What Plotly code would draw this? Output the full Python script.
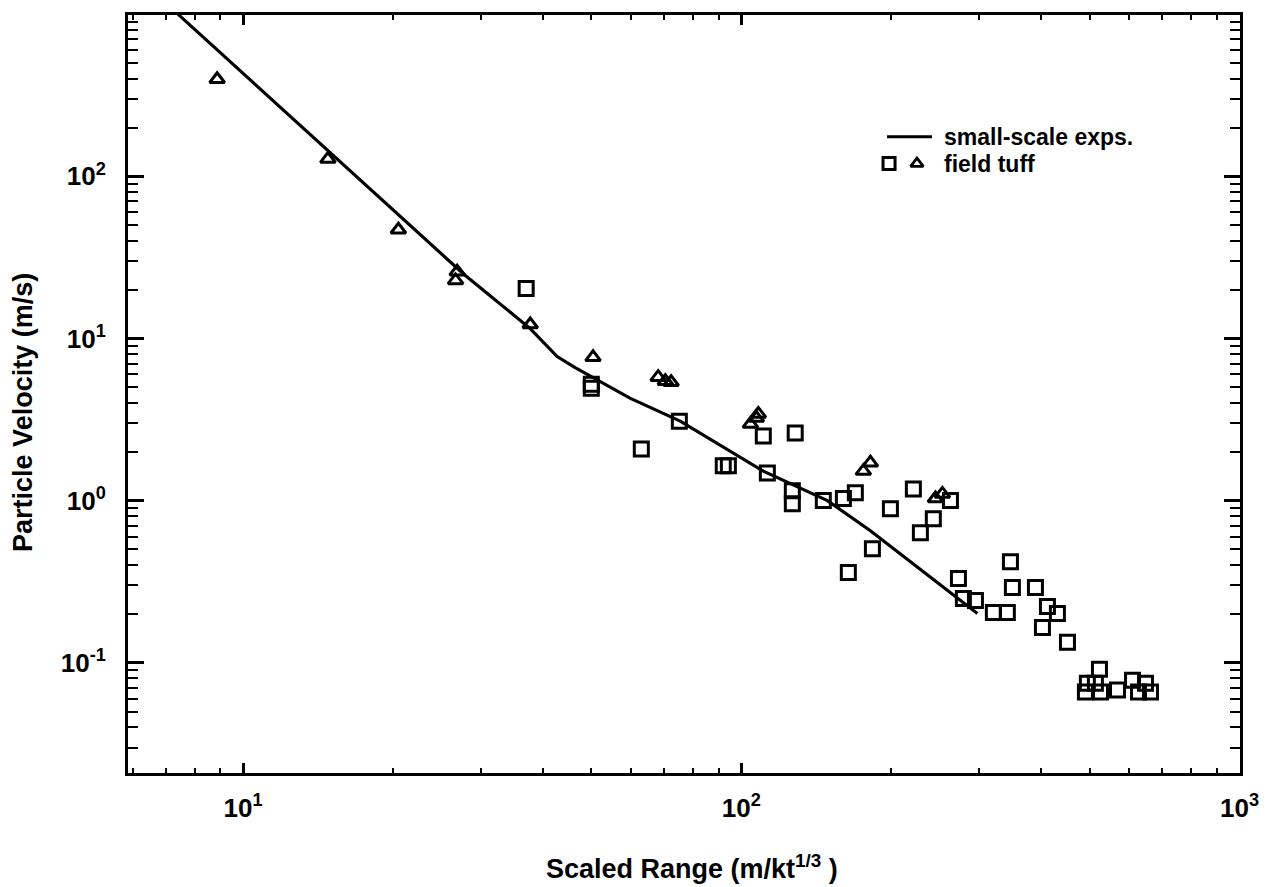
import plotly.graph_objects as go

# ---- data ----
line_x = [7.4, 27.7, 37.7, 42.7, 46.4, 59.9, 75.4, 110.7, 148.9, 181.6, 297.8]
line_y = [1000, 25.0, 11.5, 7.73, 6.61, 4.27, 3.09, 1.52, 1.00, 0.652, 0.201]

tri_x = [8.87, 14.8, 20.5, 26.9, 26.7, 37.7, 50.4, 68.1, 70.4, 72.3,
         104.3, 107.2, 108.2, 181.6, 175.8, 253.3, 245.3]
tri_y = [397, 127.8, 46.8, 25.8, 22.8, 12.2, 7.65, 5.77, 5.45, 5.37,
         2.965, 3.23, 3.42, 1.71, 1.52, 1.10, 1.03]

sq_x = [37.0, 50.0, 50.0, 63.0, 75.1, 92.0, 94.2, 110.7, 112.8, 128.3,
        126.6, 126.6, 146.1, 160.3, 169.4, 199.2, 221.5, 262.9, 242.9, 228.8,
        183.3, 164.0, 272.8, 279.1, 295.1, 320.6, 342.0, 346.9, 350.1, 389.4,
        411.6, 431.0, 402.2, 451.5, 523.5, 495.0, 513.7, 490.6, 526.0, 569.0,
        610.0, 647.6, 627.0, 662.8]
sq_y = [20.3, 5.22, 4.94, 2.08, 3.09, 1.64, 1.64, 2.50, 1.48, 2.61,
        1.15, 0.956, 1.00, 1.03, 1.12, 0.89, 1.18, 1.00, 0.773, 0.634,
        0.505, 0.36, 0.331, 0.249, 0.242, 0.204, 0.204, 0.42, 0.291, 0.291,
        0.2225, 0.2014, 0.165, 0.1337, 0.0912, 0.0748, 0.0748, 0.0659, 0.0659, 0.0678,
        0.078, 0.0748, 0.0659, 0.0659]

x_tickvals = [10, 100, 1000]
x_ticktext = ["10<sup>1</sup>", "10<sup>2</sup>", "10<sup>3</sup>"]
y_tickvals = [0.1, 1, 10, 100]
y_ticktext = ["10<sup>-1</sup>", "10<sup>0</sup>", "10<sup>1</sup>", "10<sup>2</sup>"]

legend_line_label = "small-scale exps."
legend_marker_label = "field tuff"
x_title = "Scaled Range (m/kt<sup>1/3</sup> )"
y_title = "Particle Velocity (m/s)"

FONT = "Liberation Sans"
BLACK = "#000000"

fig = go.Figure()

fig.add_trace(go.Scatter(x=line_x, y=line_y, mode="lines",
                         line=dict(color=BLACK, width=3.2), showlegend=False))
fig.add_trace(go.Scatter(x=sq_x, y=sq_y, mode="markers",
                         marker=dict(symbol="square-open", size=14, color=BLACK,
                                     line=dict(width=3, color=BLACK)),
                         showlegend=False))
fig.add_trace(go.Scatter(x=tri_x, y=tri_y, mode="markers",
                         marker=dict(symbol="triangle-up-open", size=13, color=BLACK,
                                     line=dict(width=3, color=BLACK)),
                         showlegend=False))

# ---- legend drawn on an overlay 0..1 axis pair ----
LEG_Y1 = (773 - 135) / 760
LEG_Y2 = (773 - 162) / 760
fig.add_trace(go.Scatter(x=[0.6826, 0.723], y=[LEG_Y1, LEG_Y1], mode="lines",
                         line=dict(color=BLACK, width=3), xaxis="x2", yaxis="y2",
                         showlegend=False, hoverinfo="skip"))
fig.add_trace(go.Scatter(x=[0.6844], y=[LEG_Y2], mode="markers",
                         marker=dict(symbol="square-open", size=12, color=BLACK,
                                     line=dict(width=3, color=BLACK)),
                         xaxis="x2", yaxis="y2", showlegend=False, hoverinfo="skip"))
fig.add_trace(go.Scatter(x=[0.7095], y=[LEG_Y2], mode="markers",
                         marker=dict(symbol="triangle-up-open", size=11, color=BLACK,
                                     line=dict(width=2.8, color=BLACK)),
                         xaxis="x2", yaxis="y2", showlegend=False, hoverinfo="skip"))

BOLD = dict(family=FONT, color=BLACK, weight="bold")
annotations = [
    dict(text=legend_line_label, x=0.732, y=LEG_Y1, xref="paper", yref="paper",
         xanchor="left", yanchor="middle", showarrow=False, font=dict(size=23, **BOLD)),
    dict(text=legend_marker_label, x=0.732, y=LEG_Y2, xref="paper", yref="paper",
         xanchor="left", yanchor="middle", showarrow=False, font=dict(size=23, **BOLD)),
    dict(text=x_title, x=(692 - 128) / 1112, y=-(867 - 773) / 760,
         xref="paper", yref="paper", xanchor="center", yanchor="middle",
         showarrow=False, font=dict(size=27, **BOLD)),
    dict(text=y_title, x=-(128 - 23) / 1112, y=(773 - 412) / 760,
         xref="paper", yref="paper", xanchor="center", yanchor="middle",
         textangle=-90, showarrow=False, font=dict(size=27, **BOLD)),
]

axis_common = dict(showgrid=False, zeroline=False, showline=True, linecolor=BLACK,
                   linewidth=3, mirror="ticks", ticks="inside", tickcolor=BLACK,
                   tickwidth=2.5)

fig.update_layout(
    width=1277, height=887,
    margin=dict(l=128, r=37, t=13, b=114, pad=0),
    paper_bgcolor="white", plot_bgcolor="white",
    showlegend=False,
    font=dict(family=FONT, color=BLACK),
    xaxis=dict(type="log", range=[0.769, 3.001], tickvals=x_tickvals,
               ticktext=x_ticktext,
               ticklen=10, tickfont=dict(size=26, **BOLD),
               ticklabelstandoff=10,
               minor=dict(ticks="inside", dtick="D1", ticklen=5, tickwidth=2,
                          tickcolor=BLACK, showgrid=False),
               **axis_common),
    yaxis=dict(type="log", range=[-1.68, 2.995], tickvals=y_tickvals,
               ticktext=y_ticktext,
               ticklen=16, tickfont=dict(size=26, **BOLD),
               ticklabelstandoff=14,
               minor=dict(ticks="inside", dtick="D1", ticklen=10, tickwidth=2,
                          tickcolor=BLACK, showgrid=False),
               **axis_common),
    xaxis2=dict(overlaying="x", range=[0, 1], visible=False, fixedrange=True),
    yaxis2=dict(overlaying="y", range=[0, 1], visible=False, fixedrange=True),
    annotations=annotations,
)

fig.write_html("out.html")
